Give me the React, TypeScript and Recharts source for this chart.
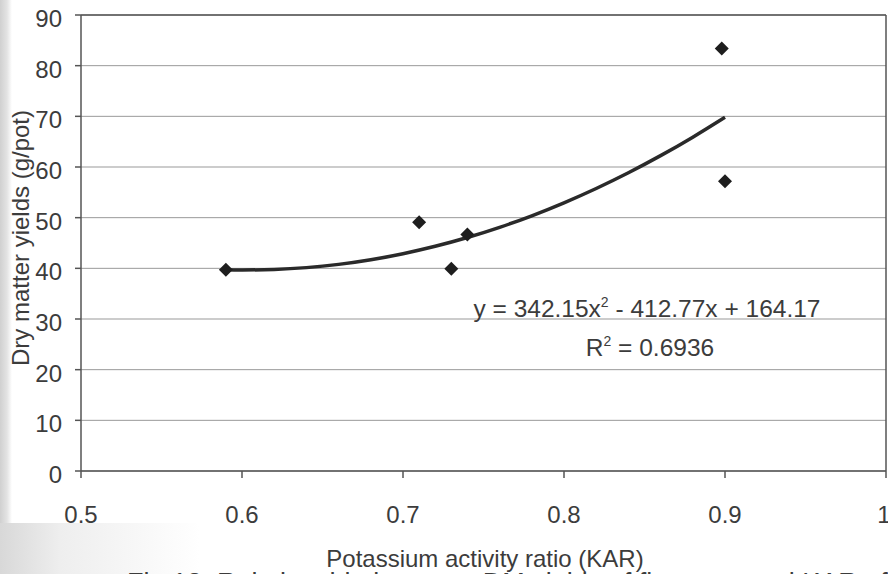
import React from "react";
import {
  ComposedChart,
  Line,
  Scatter,
  XAxis,
  YAxis,
  CartesianGrid,
  ReferenceLine,
} from "recharts";

// Measured pot data: potassium activity ratio vs dry matter yield
const kar = [0.59, 0.71, 0.73, 0.74, 0.898, 0.9];
const dmYield = [39.7, 49.1, 39.9, 46.7, 83.4, 57.2];

// Quadratic trend line y = 342.15x² - 412.77x + 164.17, tabulated
const trendKar = [0.59, 0.6, 0.62, 0.64, 0.66, 0.68, 0.7, 0.72, 0.74, 0.76, 0.78, 0.8, 0.82, 0.84, 0.86, 0.88, 0.9];
const trendYield = [39.74, 39.68, 39.78, 40.14, 40.78, 41.7, 42.89, 44.35, 46.08, 48.09, 50.37, 52.93, 55.76, 58.86, 62.24, 65.89, 69.82];

const xTicks = [0.5, 0.6, 0.7, 0.8, 0.9, 1];
const yTicks = [0, 10, 20, 30, 40, 50, 60, 70, 80, 90];

const xTitle = "Potassium activity ratio (KAR)";
const yTitle = "Dry matter yields (g/pot)";
const caption = "Fig 13: Relationship between DM yields of first crop and KAR of";

const points = kar.map((x, i) => ({ x, y: dmYield[i] }));
const trend = trendKar.map((x, i) => ({ x, y: trendYield[i] }));

const FONT = "'Liberation Sans', Arial, sans-serif";
const TEXT = "#3c3c3c";
const AXIS = "#555";

const Diamond = (props: any) => {
  const { cx, cy } = props;
  const r = 7;
  return (
    <polygon
      points={`${cx},${cy - r} ${cx + r},${cy} ${cx},${cy + r} ${cx - r},${cy}`}
      fill="#1e1e1e"
    />
  );
};

const XTick = (props: any) => {
  const { x, y, payload } = props;
  return (
    <text x={x} y={y + 15} textAnchor="middle" fontSize={24} fill={TEXT} fontFamily={FONT}>
      {String(payload.value)}
    </text>
  );
};

const YTick = (props: any) => {
  const { x, y, payload } = props;
  return (
    <text x={x} y={y + 12} textAnchor="end" fontSize={24} fill={TEXT} fontFamily={FONT}>
      {String(payload.value)}
    </text>
  );
};

export default function App() {
  return (
    <div
      style={{
        position: "absolute",
        left: 0,
        top: 0,
        width: 888,
        height: 574,
        background: "#fff",
        overflow: "hidden",
        fontFamily: FONT,
      }}
    >
      <div
        style={{
          position: "absolute",
          left: 0,
          top: 0,
          width: 12,
          height: 574,
          background: "linear-gradient(to right, #d0d0d0 0px, #e3e3e3 7px, #ffffff 12px)",
        }}
      />
      <div
        style={{
          position: "absolute",
          left: 0,
          top: 523,
          width: 200,
          height: 51,
          background: "linear-gradient(to right, #d8d8d8 0px, #eeeeee 60px, #ffffff 200px)",
        }}
      />
      <div style={{ position: "absolute", left: 0, top: 0 }}>
        <ComposedChart
          width={888}
          height={574}
          margin={{ top: 15, right: 2, bottom: 0, left: 0 }}
        >
          <CartesianGrid horizontal vertical={false} stroke="#999" strokeWidth={1} />
          <XAxis
            type="number"
            dataKey="x"
            domain={[0.5, 1]}
            ticks={xTicks}
            allowDataOverflow
            height={103}
            stroke={AXIS}
            strokeWidth={1.5}
            tickSize={7}
            tickMargin={30}
            tick={<XTick />}
          />
          <YAxis
            type="number"
            domain={[0, 90]}
            ticks={yTicks}
            width={81}
            stroke={AXIS}
            strokeWidth={1.5}
            tickSize={6}
            tickMargin={13}
            tick={<YTick />}
          />
          <ReferenceLine y={90} stroke={AXIS} strokeWidth={1.5} />
          <ReferenceLine x={1} stroke={AXIS} strokeWidth={1.5} />
          <Line
            data={trend}
            dataKey="y"
            type="natural"
            stroke="#2a2a2a"
            strokeWidth={3.5}
            dot={false}
            activeDot={false}
            isAnimationActive={false}
          />
          <Scatter data={points} dataKey="y" shape={<Diamond />} isAnimationActive={false} />
        </ComposedChart>
      </div>
      <svg
        width={888}
        height={574}
        style={{ position: "absolute", left: 0, top: 0, pointerEvents: "none" }}
      >
        <text x={647} y={317} textAnchor="middle" fontSize={24.5} fill={TEXT} fontFamily={FONT}>
          y = 342.15x
          <tspan fontSize={14} dy={-10}>2</tspan>
          <tspan dy={10}> - 412.77x + 164.17</tspan>
        </text>
        <text x={650} y={356} textAnchor="middle" fontSize={24.5} fill={TEXT} fontFamily={FONT}>
          R
          <tspan fontSize={14} dy={-10}>2</tspan>
          <tspan dy={10}> = 0.6936</tspan>
        </text>
        <text
          transform="translate(29 238) rotate(-90)"
          textAnchor="middle"
          fontSize={24}
          fill={TEXT}
          fontFamily={FONT}
        >
          {yTitle}
        </text>
        <text x={485} y={567} textAnchor="middle" fontSize={24} fill={TEXT} fontFamily={FONT}>
          {xTitle}
        </text>
        <text x={127} y={592} fontSize={27} fill={TEXT} fontFamily={FONT}>
          {caption}
        </text>
      </svg>
    </div>
  );
}
